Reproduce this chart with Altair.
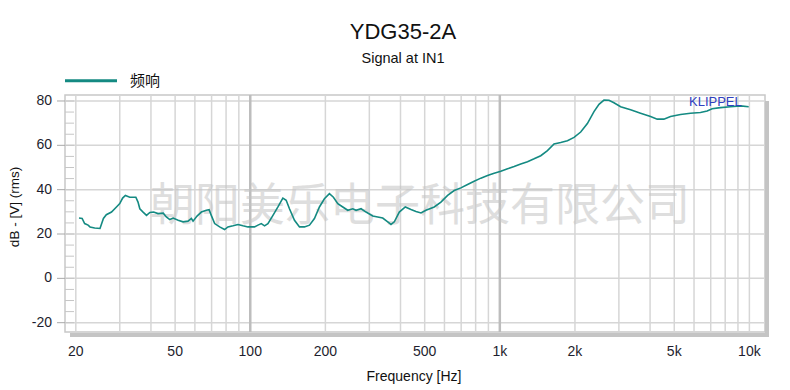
import altair as alt
import pandas as pd

# ---------------- data ----------------
FREQ = [20.6, 21.2, 21.7, 22.4, 22.8, 23.8, 25.0, 25.8, 26.5, 27.8,
        29.1, 30.0, 30.8, 31.6, 32.9, 34.8, 35.5, 36.1, 37.2, 38.4,
        39.6, 41.0, 42.7, 44.8, 46.1, 47.6, 49.1, 51.4, 53.8, 56.3,
        58.1, 59.0, 61.2, 63.7, 66.7, 68.4, 69.8, 72.0, 75.4, 78.9,
        81.4, 85.3, 89.3, 93.5, 97.9, 104.0,
        107.4, 110.7, 114.1, 117.7, 123.3, 129.1, 135.1, 139.3, 143.6, 150.4,
        157.5, 164.9, 172.7, 180.8, 189.3, 198.2, 207.6, 215.4, 224.3, 234.9,
        245.9, 257.5, 265.5, 278.0, 291.1, 309.6, 324.2, 339.5, 355.5, 366.4,
        377.8, 395.6, 418.1, 440.6, 461.3, 483.1, 505.8,
        546.0, 580.8, 617.8, 656.5, 698.2, 742.6, 789.2, 839.5, 892.9, 949.1,
        1009, 1074, 1141, 1213, 1291, 1372, 1459, 1552, 1649, 1754,
        1866, 1983, 2109, 2243, 2384, 2497, 2614, 2737, 2866, 3048,
        3342, 3664, 4018, 4273, 4542, 4831, 5297, 5808, 6368, 6772,
        7092, 7656, 8395, 9204, 9936]

DB = [27.2, 27.0, 24.7, 24.0, 23.2, 22.7, 22.5, 27.0, 28.7, 29.9,
      32.2, 33.7, 36.2, 37.4, 36.6, 36.6, 34.4, 31.4, 29.9, 28.4,
      29.7, 29.9, 29.2, 29.4, 27.7, 26.5, 27.2, 26.2, 25.5, 25.8,
      27.0, 25.8, 28.1, 29.9, 30.7, 31.0, 28.4, 24.7, 23.2, 22.0,
      23.2, 23.7, 24.3, 23.7, 23.2, 23.2,
      24.0, 24.7, 23.7, 24.7, 28.4, 32.2, 36.2, 35.2, 31.4, 26.2,
      23.2, 23.2, 24.0, 27.0, 32.2, 35.9, 38.2, 36.6, 33.7, 32.2,
      30.7, 31.4, 30.7, 31.4, 29.9, 28.1, 27.7, 27.2, 25.5, 24.3,
      25.5, 29.9, 32.2, 31.1, 30.2, 29.5, 30.7,
      32.2, 34.4, 37.4, 39.6, 40.8, 42.3, 43.8, 45.2, 46.4, 47.4,
      48.3, 49.4, 50.4, 51.6, 52.6, 53.9, 55.3, 57.6, 60.6, 61.3,
      62.1, 63.6, 66.0, 69.8, 75.2, 78.5, 80.4, 80.3, 79.2, 77.4,
      76.0, 74.5, 73.0, 71.8, 71.8, 73.0, 73.9, 74.5, 74.8, 75.5,
      76.5, 77.0, 77.4, 77.8, 77.4]

X_LABELS = [20, 50, 100, 200, 500, 1000, 2000, 5000, 10000]
X_LABEL_TEXT = ["20", "50", "100", "200", "500", "1k", "2k", "5k", "10k"]
X_GRID = [20, 30, 40, 50, 60, 70, 80, 90,
          200, 300, 400, 500, 600, 700, 800, 900,
          2000, 3000, 4000, 5000, 6000, 7000, 8000, 9000, 10000]
X_DECADE = [100, 1000]
Y_TICKS = [-20, 0, 20, 40, 60, 80]
Y_MINOR = [-20, -15, -10, -5, 0, 5, 10, 15, 20, 25, 30, 35, 40, 45,
           50, 55, 60, 65, 70, 75, 80]

TITLE = "YDG35-2A"
SUBTITLE = "Signal at IN1"
LEGEND = "频响"
WATERMARK = "朝阳美乐电子科技有限公司"
BRAND = "KLIPPEL"
X_TITLE = "Frequency [Hz]"
Y_TITLE = "dB - [V] (rms)"

# ---------------- chart ----------------
W, H = 700, 237
FONT = "Liberation Sans"
TEAL = "#148a82"
LABEL_COLOR = "#1e1e2e"
xscale = alt.Scale(type="log", domain=[18.1, 11550], nice=False, zero=False)
yscale = alt.Scale(domain=[-24.2, 82.7], nice=False, zero=False)
X = lambda f: alt.X(f, type="quantitative", scale=xscale, axis=None)
Y = lambda f: alt.Y(f, type="quantitative", scale=yscale, axis=None)

one = pd.DataFrame({"t": [""]})


def text(s, x, y, size, color="#111111", font=FONT, **kw):
    return alt.Chart(pd.DataFrame({"t": [s]})).mark_text(
        fontSize=size, font=font, color=color, **kw
    ).encode(text="t:N", x=alt.value(x), y=alt.value(y))


shadow_b = alt.Chart(one).mark_rect(color="#c4c4c4").encode(
    x=alt.value(5), x2=alt.value(704), y=alt.value(238), y2=alt.value(242))
shadow_r = alt.Chart(one).mark_rect(color="#c4c4c4").encode(
    x=alt.value(700), x2=alt.value(704), y=alt.value(6), y2=alt.value(242))

grid_x = alt.Chart(pd.DataFrame({"freq": X_GRID})).mark_rule(
    color="#d6d6d6", strokeWidth=1.5).encode(x=X("freq"))
grid_dec = alt.Chart(pd.DataFrame({"freq": X_DECADE})).mark_rule(
    color="#bdbdbd", strokeWidth=2.5).encode(x=X("freq"))

ydf = pd.DataFrame({"db": Y_TICKS, "lab": [str(v) for v in Y_TICKS]})
grid_y = alt.Chart(ydf).mark_rule(color="#d6d6d6", strokeWidth=1.5).encode(y=Y("db"))
tick_y = alt.Chart(ydf).mark_rule(color="#a8a8a8", strokeWidth=1).encode(
    y=Y("db"), x=alt.value(-8), x2=alt.value(0))
lab_y = alt.Chart(ydf).mark_text(
    fontSize=14, font=FONT, color=LABEL_COLOR, align="right", baseline="middle").encode(
    y=Y("db"), x=alt.value(-13), text="lab:N")
minor = alt.Chart(pd.DataFrame({"db": Y_MINOR})).mark_rule(
    color="#c6c6c6", strokeWidth=1).encode(y=Y("db"), x=alt.value(0), x2=alt.value(9))

xdf = pd.DataFrame({"freq": X_LABELS, "lab": X_LABEL_TEXT})
lab_x = alt.Chart(xdf).mark_text(
    fontSize=14, font=FONT, color=LABEL_COLOR, align="center", baseline="middle").encode(
    x=X("freq"), y=alt.value(257), text="lab:N")

watermark = text(WATERMARK, 355, 112, 45, color="#c4c4c4",
                 font="Noto Sans CJK SC", align="center", baseline="middle",
                 opacity=0.55)

curve = alt.Chart(pd.DataFrame({"freq": FREQ, "db": DB})).mark_line(
    color=TEAL, strokeWidth=1.6).encode(x=X("freq"), y=Y("db"))

legend_line = alt.Chart(one).mark_rule(color=TEAL, strokeWidth=3).encode(
    x=alt.value(0), x2=alt.value(52), y=alt.value(-14.3))

layers = [
    shadow_b, shadow_r, grid_y, grid_x, grid_dec, minor, tick_y, lab_y, lab_x,
    watermark, curve,
    text(BRAND, 624, 10.5, 13, color="#3040c0", align="left", baseline="alphabetic"),
    text(TITLE, 338, -55.7, 22, align="center", baseline="alphabetic"),
    text(SUBTITLE, 338, -31.7, 14.5, align="center", baseline="alphabetic"),
    legend_line,
    text(LEGEND, 65, -14.3, 15, font="Noto Sans CJK SC", align="left", baseline="middle"),
    text(X_TITLE, 349, 286, 14, align="center", baseline="alphabetic"),
    text(Y_TITLE, -50, 112, 13.5, align="center", baseline="middle", angle=270),
]

chart = alt.layer(*layers).properties(
    width=W, height=H,
    autosize=alt.AutoSizeParams(type="none"),
    padding={"left": 57, "top": 87, "right": 17, "bottom": 55},
).configure(background="white").configure_view(stroke="#c8c8c8", strokeWidth=1.5)

chart.save("out.html", embed_options={"renderer": "svg", "actions": False})
